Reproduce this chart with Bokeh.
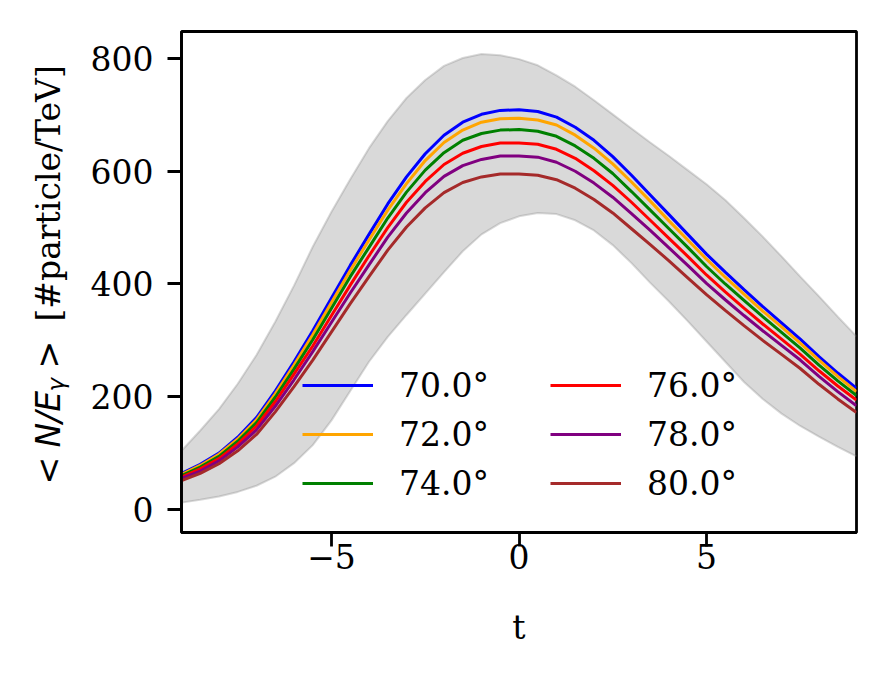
from math import pi
from bokeh.plotting import figure
from bokeh.layouts import row
from bokeh.models import (Legend, LegendItem, Label, FixedTicker,
                          CustomJSTickFormatter, Range1d)
from bokeh.embed import file_html
from bokeh.resources import INLINE

# ---------------- data ----------------
t = [-9.0, -8.5, -8.0, -7.5, -7.0, -6.5, -6.0, -5.5, -5.0, -4.5, -4.0, -3.5, -3.0,
     -2.5, -2.0, -1.5, -1.0, -0.5, 0.0, 0.5, 1.0, 1.5, 2.0, 2.5, 3.0, 3.5, 4.0,
     4.5, 5.0, 5.5, 6.0, 6.5, 7.0, 7.5, 8.0, 8.5, 9.0]

labels = ["70.0°", "72.0°", "74.0°", "76.0°", "78.0°", "80.0°"]
colors = ["blue", "orange", "green", "red", "purple", "brown"]

n_70 = [64, 80, 100, 128, 163, 210, 262, 317, 375, 433, 488, 542, 590, 631, 664, 687, 701, 708, 709,
        706, 696, 678, 655, 626, 593, 558, 523, 488, 453, 421, 390, 360, 331, 302, 271, 242, 215]
n_72 = [62, 78, 98, 125, 159, 205, 256, 310, 367, 424, 478, 531, 578, 619, 651, 673, 687, 693, 694,
        691, 682, 664, 641, 613, 581, 547, 512, 478, 444, 412, 382, 352, 324, 295, 265, 236, 209]
n_74 = [60, 75, 94, 121, 154, 199, 249, 301, 357, 413, 465, 517, 563, 602, 633, 655, 667, 673, 674,
        671, 662, 645, 623, 596, 564, 531, 498, 465, 431, 400, 371, 342, 314, 286, 256, 228, 202]
n_76 = [57, 72, 90, 116, 148, 191, 240, 290, 344, 398, 450, 500, 545, 582, 612, 632, 644, 650, 650,
        648, 639, 623, 601, 575, 545, 513, 481, 449, 416, 386, 357, 329, 302, 275, 246, 219, 194]
n_78 = [55, 68, 86, 111, 141, 183, 230, 280, 332, 384, 434, 483, 526, 562, 591, 610, 621, 627, 627,
        625, 616, 600, 579, 554, 525, 495, 464, 433, 401, 372, 344, 317, 291, 265, 236, 209, 184]
n_80 = [51, 64, 81, 104, 133, 173, 218, 265, 315, 365, 413, 460, 501, 535, 562, 580, 590, 595, 595,
        593, 585, 570, 550, 526, 498, 470, 441, 411, 381, 353, 326, 300, 275, 250, 222, 196, 172]

band_upper = [104, 140, 178, 223, 274, 333, 397, 466, 528, 586, 641, 689, 730, 762, 787, 801, 808, 806, 799,
              788, 770, 750, 726, 701, 676, 651, 627, 602, 577, 549, 517, 484, 449, 413, 378, 342, 307]
band_lower = [12, 17, 23, 31, 42, 58, 82, 114, 158, 210, 262, 306, 345, 383, 421, 458, 488, 508, 520,
              526, 524, 513, 495, 469, 437, 402, 369, 334, 298, 262, 226, 196, 170, 148, 129, 111, 94]

x_ticks = [-5, 0, 5]
y_ticks = [0, 200, 400, 600, 800]
x_label = "t"

series = [n_70, n_72, n_74, n_76, n_78, n_80]

# ---------------- layout constants ----------------
FONT = "DejaVu Serif"
FS = "33px"
H = 658
W_LAB = 80
TOP, BOTTOM = 31, 532          # frame edges on the page

# ---------------- main figure ----------------
p = figure(width=869 - W_LAB, height=H, output_backend="svg", toolbar_location=None,
           x_range=Range1d(-9, 9), y_range=Range1d(-41, 848),
           min_border_left=181 - W_LAB, min_border_right=13,
           min_border_top=TOP, min_border_bottom=H - BOTTOM)
p.xgrid.visible = False
p.ygrid.visible = False
p.background_fill_color = "white"
p.border_fill_color = "white"
p.outline_line_color = "black"
p.outline_line_width = 2.8
p.outline_line_alpha = 1.0

# uncertainty band
p.varea(x=t, y1=band_lower, y2=band_upper, fill_color="gray", fill_alpha=0.3)
p.line(t, band_upper, line_color="gray", line_alpha=0.3, line_width=2)
p.line(t, band_lower, line_color="gray", line_alpha=0.3, line_width=2)

renderers = []
for s, c in zip(series, colors):
    renderers.append(p.line(t, s, line_color=c, line_width=3))

# axes
for ax in (p.xaxis[0], p.yaxis[0]):
    ax.axis_line_width = 2.8
    ax.axis_line_color = "black"
    ax.major_tick_out = 14
    ax.major_tick_in = 0
    ax.major_tick_line_width = 2.8
    ax.major_tick_line_color = "black"
    ax.minor_tick_out = 0
    ax.minor_tick_in = 0
    ax.major_label_text_font = FONT
    ax.major_label_text_font_size = FS
    ax.major_label_text_color = "black"

p.yaxis[0].major_label_standoff = 14
p.xaxis[0].major_label_standoff = -3

p.xaxis[0].ticker = FixedTicker(ticks=x_ticks)
p.yaxis[0].ticker = FixedTicker(ticks=y_ticks)
minus_fmt = "return (tick < 0 ? '\u2212' : '') + Math.abs(tick).toString();"
p.xaxis[0].formatter = CustomJSTickFormatter(code=minus_fmt)
p.yaxis[0].formatter = CustomJSTickFormatter(code=minus_fmt)

p.xaxis[0].axis_label = x_label
p.xaxis[0].axis_label_text_font = FONT
p.xaxis[0].axis_label_text_font_size = FS
p.xaxis[0].axis_label_text_font_style = "normal"
p.xaxis[0].axis_label_text_color = "black"
p.xaxis[0].axis_label_standoff = 36

# legends: two columns, no frame
def make_legend(idx, xloc):
    items = [LegendItem(label=labels[i], renderers=[renderers[i]]) for i in idx]
    leg = Legend(items=items, location=(xloc, 29), orientation="vertical",
                 glyph_width=71, glyph_height=40, label_height=40,
                 label_standoff=26, spacing=9, padding=0, margin=0,
                 border_line_alpha=0, background_fill_alpha=0,
                 label_text_font=FONT, label_text_font_size=FS,
                 label_text_color="black")
    p.add_layout(leg, "center")

make_legend([0, 1, 2], 121)
make_legend([3, 4, 5], 369)

# ---------------- y-axis label panel (math part sans italic, units serif) ----------------
# its frame is aligned with the main frame; y range runs in page pixels (top-down)
q = figure(width=W_LAB, height=H, output_backend="svg", toolbar_location=None,
           x_range=Range1d(0, W_LAB), y_range=Range1d(BOTTOM, TOP),
           x_axis_type=None, y_axis_type=None,
           min_border_left=0, min_border_right=0,
           min_border_top=TOP, min_border_bottom=H - BOTTOM)
q.xgrid.visible = False
q.ygrid.visible = False
q.outline_line_color = None
q.background_fill_color = "white"
q.border_fill_color = "white"

ylab_x = 48
pieces = [
    ("<", 484, 0, "DejaVu Sans", "italic", "33px"),
    ("N/E", 447, 0, "DejaVu Sans", "italic", "33px"),
    ("γ", 391, 7, "DejaVu Sans", "italic", "23px"),
    (">", 368, 0, "DejaVu Sans", "italic", "33px"),
    ("[#particle/TeV]", 321, 0, FONT, "normal", "33px"),
]
for txt, yy, dx, fnt, sty, fs in pieces:
    q.add_layout(Label(x=ylab_x + dx, y=yy, text=txt, angle=pi / 2,
                       text_font=fnt, text_font_style=sty, text_font_size=fs,
                       text_align="left", text_baseline="middle", text_color="black"))

layout = row(q, p, spacing=0)
open("out.html", "w").write(file_html(layout, INLINE))
